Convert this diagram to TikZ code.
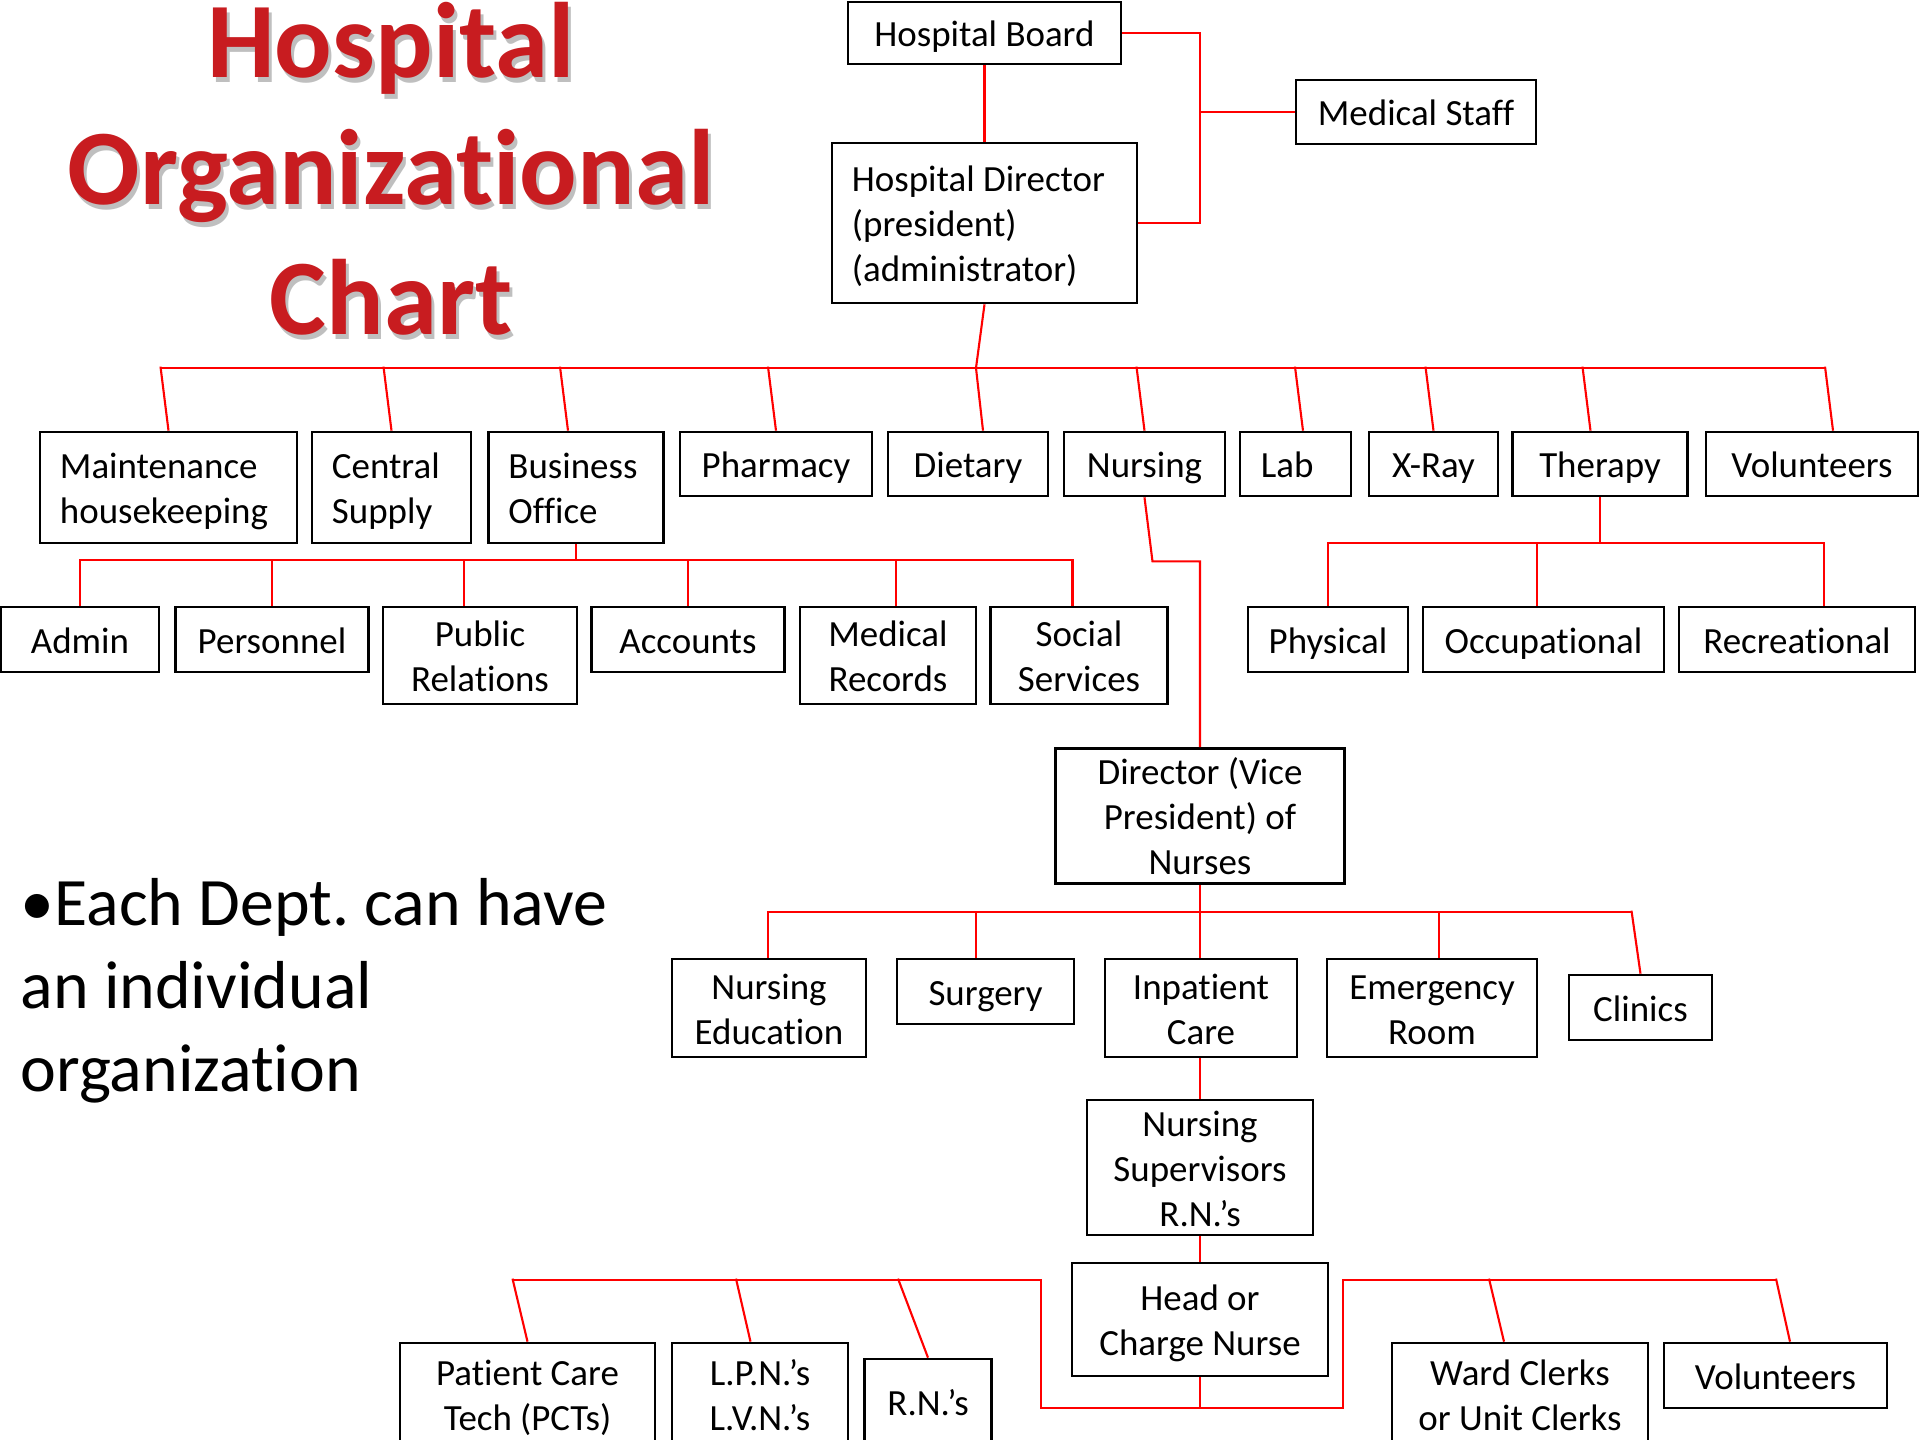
\documentclass[tikz,border=0pt]{standalone}
\usepackage{fontspec}
\setmainfont{Carlito}[Ligatures={NoCommon}]
\usetikzlibrary{calc}

\definecolor{titlered}{RGB}{200,28,32}
\newcommand{\boxfont}{\fontsize{10.5}{12.8}\selectfont}
\newcommand{\titlefont}{\fontsize{30.5}{36.5}\selectfont\bfseries}
\newcommand{\bstrut}{\rule[-2.5pt]{0pt}{12.8pt}}
\frenchspacing

\tikzset{
	box/.style={draw, line width=0.75pt, inner sep=0pt, font=\boxfont, align=flush center,
		execute at begin node=\bstrut, execute at end node=\bstrut},
	sz/.style 2 args={minimum width=#1*0.1mm, minimum height=#2*0.1mm, text width=(#1-16)*0.1mm},
	lbox/.style={align=flush left, text width=#1*0.1mm},
	link/.style={red, line width=0.6pt},
	title/.style={anchor=base, font=\titlefont, text=titlered, inner sep=0pt},
	tshadow/.style={anchor=base, font=\titlefont, text=black, opacity=0.25, inner sep=0pt},
}

\begin{document}
\begin{tikzpicture}[x=0.01cm, y=-0.01cm]
	\useasboundingbox (0,0) rectangle (1920,1440);
	\fill[white] (0,0) rectangle (1920,1440);

	% title
	\node[tshadow] (ts1) at (394,83) {Hospital};
	\node[tshadow] (ts2) at (394,210) {Organizational};
	\node[tshadow] (ts3) at (394,340) {Chart};
	\node[title] (t1) at (391,78) {Hospital};
	\node[title] (t2) at (391,205) {Organizational};
	\node[title] (t3) at (391,335) {Chart};

	\node[anchor=north west, inner sep=0pt, align=left, font=\fontsize{19.3}{23.6}\selectfont] (note) at (20,877.5)
		{•Each Dept. can have\\an individual\\organization};

	% top of the chart
	\node[box, sz={273}{62}] (board) at (984.5,33) {Hospital Board};
	\node[box, sz={240}{64}] (medstaff) at (1416,112) {Medical Staff};
	\node[box, sz={305}{160}, lbox=265] (hdir) at (984.5,223)
		{Hospital Director\\(president)\\(administrator)};

	% departments
	\node[box, sz={257}{111}, lbox=217] (maint) at (168.5,487.5) {Maintenance\\housekeeping};
	\node[box, sz={159}{111}, lbox=119] (csupply) at (391.5,487.5) {Central\\Supply};
	\node[box, sz={175}{111}, lbox=135] (bizoff) at (576,487.5) {Business\\Office};
	\node[box, sz={192}{64}] (pharm) at (776,464) {Pharmacy};
	\node[box, sz={160}{64}] (diet) at (968,464) {Dietary};
	\node[box, sz={161}{64}] (nursing) at (1144.5,464) {Nursing};
	\node[box, sz={111}{64}, lbox=69] (lab) at (1295.5,464) {Lab};
	\node[box, sz={129}{64}] (xray) at (1433.5,464) {X-Ray};
	\node[box, sz={175}{64}] (therapy) at (1600,464) {Therapy};
	\node[box, sz={212}{64}] (volun) at (1812,464) {Volunteers};

	% business office
	\node[box, sz={158}{65}] (admin) at (80,639.5) {Admin};
	\node[box, sz={193.5}{65}] (personnel) at (272,639.5) {Personnel};
	\node[box, sz={194}{97}] (pubrel) at (480,655.5) {Public\\Relations};
	\node[box, sz={193.5}{65}] (accounts) at (688,639.5) {Accounts};
	\node[box, sz={176}{97}] (medrec) at (888,655.5) {Medical\\Records};
	\node[box, sz={177.5}{97}] (social) at (1079,655.5) {Social\\Services};

	% therapy
	\node[box, sz={160}{65}] (physical) at (1328,639.5) {Physical};
	\node[box, sz={241}{65}] (occup) at (1543.5,639.5) {Occupational};
	\node[box, sz={236}{65}] (recre) at (1797,639.5) {Recreational};

	% nursing
	\node[box, sz={289}{128}] (vpnurse) at (1200,816) {Director (Vice\\President) of\\Nurses};
	\node[box, sz={194}{98}] (nursedu) at (769,1008) {Nursing\\Education};
	\node[box, sz={177}{65}] (surgery) at (985.5,991.5) {Surgery};
	\node[box, sz={192}{98}] (inpatient) at (1201,1008) {Inpatient\\Care};
	\node[box, sz={210}{98}] (emergency) at (1432,1008) {Emergency\\Room};
	\node[box, sz={143}{65}] (clinics) at (1640.5,1007.5) {Clinics};
	\node[box, sz={226}{129}] (nsuper) at (1200,1167.5) {Nursing\\Supervisors\\R.N.’s};
	\node[box, sz={256}{113}] (headnurse) at (1200,1319.5) {Head or\\Charge Nurse};

	% ward staff
	\node[box, sz={255}{102}] (pct) at (527.5,1394) {Patient Care\\Tech (PCTs)};
	\node[box, sz={176}{102}] (lpn) at (760,1394) {L.P.N.’s\\L.V.N.’s};
	\node[box, sz={127}{86}] (rn) at (928,1402) {R.N.’s};
	\node[box, sz={256}{102}] (wardclerk) at (1520,1394) {Ward Clerks\\or Unit Clerks};
	\node[box, sz={223}{65}] (volun2) at (1775.5,1375.5) {Volunteers};

	% board and medical staff
	\coordinate (msj) at (1200,112);
	\draw[link] (board) -- (hdir);
	\draw[link] (board.east) -| (msj) |- (hdir.east);
	\draw[link] (msj) -- (medstaff.west);

	% main bus
	\coordinate (busL) at (160,368);
	\coordinate (busR) at (1825,368);
	\coordinate (busD) at (976,368);
	\draw[link] (busL) -- (busR);
	\draw[link] (hdir.south) -- (busD) -- ([xshift=1.5mm]diet.north);
	\foreach \n/\s in {maint/0, csupply/0, bizoff/-0.8, pharm/0, nursing/0, lab/0.75, xray/0, therapy/-0.95, volun/2.1}
		\draw[link] ([xshift=\s mm]\n.north) -- ++(-8,-64);

	% business office bus
	\coordinate (subL) at (80,560);
	\coordinate (subR) at (1072.5,560);
	\draw[link] (bizoff.south) -- ++(0,17);
	\draw[link] (subL) -- (subR);
	\foreach \n/\s in {admin/0, personnel/0, pubrel/-1.6, accounts/0, medrec/0.8, social/-0.65}
		\draw[link] ([xshift=\s mm]\n.north) -- ++(0,-47);

	% therapy bus
	\coordinate (thL) at (1328,543);
	\coordinate (thR) at (1824,543);
	\draw[link] (therapy.south) -- ++(0,47);
	\draw[link] (thL) -- (thR);
	\foreach \n/\s in {physical/0, occup/-0.65, recre/2.7}
		\draw[link] ([xshift=\s mm]\n.north) -- ++(0,-64);

	% nursing line
	\draw[link] (nursing.south) -- ++(8,64) -| (vpnurse.north);

	% nurses bus
	\coordinate (nbL) at (768,912);
	\coordinate (nbR) at (1631.5,912);
	\draw[link] (vpnurse.south) -- ++(0,32);
	\draw[link] (nbL) -- (nbR);
	\foreach \n/\s in {nursedu/-0.1, surgery/-0.95, inpatient/-0.1, emergency/0.7}
		\draw[link] ([xshift=\s mm]\n.north) -- ++(0,-47);
	\draw[link] (clinics.north) -- ++(-9,-63);

	\draw[link] (vpnurse.south |- inpatient.south) -- (vpnurse.south |- nsuper.north);
	\draw[link] (nsuper.south) -- (nsuper.south |- headnurse.north);

	% ward bus
	\coordinate (lbL) at (512.5,1280);
	\coordinate (lbR) at (1776,1280);
	\coordinate (hookL) at (1041,1408);
	\coordinate (hookR) at (1343,1408);
	\draw[link] (lbL) -| (hookL) -- (hookR) |- (lbR);
	\draw[link] (headnurse.south) -- (headnurse.south |- hookL);
	\draw[link] (pct.north) -- ++(-15,-63);
	\draw[link] ([xshift=-0.95mm]lpn.north) -- ++(-14.5,-63);
	\draw[link] (rn.north) -- ++(-30,-79);
	\draw[link] ([xshift=-1.6mm]wardclerk.north) -- ++(-15,-63);
	\draw[link] ([xshift=1.45mm]volun2.north) -- ++(-14,-63);
\end{tikzpicture}
\end{document}
